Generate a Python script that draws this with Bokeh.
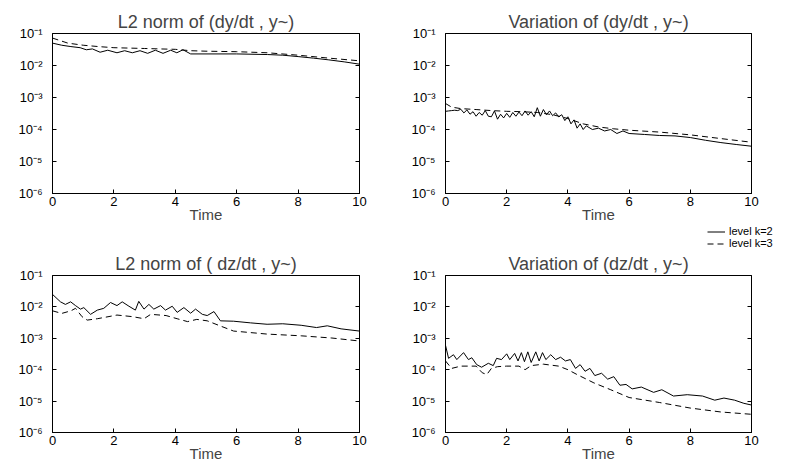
from bokeh.plotting import figure
from bokeh.layouts import column, row
from bokeh.models import (FixedTicker, CustomJSTickFormatter, LogAxis, Legend,
                          LegendItem, Range1d)
from bokeh.embed import file_html
from bokeh.resources import INLINE

# ---------------- data ----------------
titles = ["L2 norm of (dy/dt , y~)", "Variation of (dy/dt , y~)",
          "L2 norm of ( dz/dt , y~)", "Variation of (dz/dt , y~)"]
series_labels = ["level k=2", "level k=3"]
x_ticks = [0, 2, 4, 6, 8, 10]
y_ticks = [1e-6, 1e-5, 1e-4, 1e-3, 1e-2, 1e-1]

# L2 norm of (dy/dt, y~)
tl_t_k2 = [0, 0.3, 0.6, 0.9, 1.1, 1.3, 1.55, 1.8, 2.1, 2.35, 2.6, 2.85, 3.1, 3.35,
           3.6, 3.85, 4.05, 4.25, 4.5, 5, 6, 7, 7.5, 8, 8.5, 9, 9.5, 10]
tl_v_k2 = [0.050, 0.043, 0.039, 0.036, 0.031, 0.033, 0.026, 0.030, 0.025, 0.029,
           0.025, 0.029, 0.024, 0.030, 0.024, 0.030, 0.025, 0.031, 0.023, 0.023,
           0.023, 0.022, 0.021, 0.019, 0.017, 0.015, 0.013, 0.011]
tl_t_k3 = [0, 0.5, 1, 1.5, 2, 3, 4, 4.5, 5, 6, 7, 8, 9, 10]
tl_v_k3 = [0.072, 0.050, 0.043, 0.039, 0.036, 0.034, 0.032, 0.029, 0.028, 0.027,
           0.025, 0.021, 0.017, 0.014]

# Variation of (dy/dt, y~)
tr_t_k2 = [0.0, 0.1, 0.2, 0.3, 0.4, 0.5, 0.6, 0.7, 0.8, 0.9, 1.0, 1.1, 1.2, 1.3,
           1.4, 1.5, 1.6, 1.7, 1.8, 1.9, 2.0, 2.1, 2.2, 2.3, 2.4, 2.5, 2.6, 2.7,
           2.8, 2.9, 3.0, 3.1, 3.2, 3.3, 3.4, 3.5, 3.6, 3.7, 3.8, 3.9, 4.0, 4.1,
           4.2, 4.3, 4.4, 4.5, 4.6, 4.8, 5.0, 5.2, 5.4, 5.6, 5.8, 6.0, 6.5, 7.0,
           7.5, 8.0, 8.5, 9.0, 9.5, 10.0]
tr_v_k2 = [3.7e-4, 3.8e-4, 3.9e-4, 4.0e-4, 3.9e-4, 4.3e-4, 3.3e-4, 4.1e-4, 3.0e-4,
           3.6e-4, 2.6e-4, 3.4e-4, 2.8e-4, 3.9e-4, 2.6e-4, 2.5e-4, 3.8e-4, 2.1e-4,
           3.0e-4, 2.3e-4, 3.2e-4, 2.4e-4, 3.4e-4, 2.6e-4, 3.5e-4, 2.7e-4, 3.8e-4,
           2.8e-4, 3.6e-4, 2.5e-4, 4.8e-4, 2.6e-4, 4.2e-4, 2.9e-4, 3.8e-4, 2.7e-4,
           3.3e-4, 2.5e-4, 2.9e-4, 1.9e-4, 2.5e-4, 1.5e-4, 2.0e-4, 1.1e-4, 1.5e-4,
           1.0e-4, 1.3e-4, 1.0e-4, 1.1e-4, 9.0e-5, 1.0e-4, 7.5e-5, 9.0e-5, 7.5e-5,
           7.0e-5, 6.5e-5, 6.3e-5, 5.6e-5, 4.6e-5, 3.9e-5, 3.4e-5, 3.0e-5]
tr_t_k3 = [0, 0.2, 0.5, 1, 1.5, 2, 2.5, 3, 3.5, 4, 4.5, 5, 5.5, 6, 7, 8, 9, 10]
tr_v_k3 = [6.5e-4, 5.0e-4, 4.5e-4, 4.2e-4, 3.9e-4, 3.7e-4, 3.6e-4, 3.4e-4, 2.9e-4,
           2.2e-4, 1.5e-4, 1.2e-4, 1.05e-4, 9.5e-5, 8.3e-5, 6.8e-5, 5.2e-5, 4.0e-5]

# L2 norm of (dz/dt, y~)
bl_t_k2 = [0, 0.26, 0.42, 0.59, 0.75, 0.91, 1.02, 1.24, 1.46, 1.67, 1.89, 2.1, 2.27,
           2.49, 2.7, 2.81, 2.98, 3.14, 3.3, 3.52, 3.68, 3.9, 4.06, 4.28, 4.5, 4.66,
           4.88, 5.04, 5.26, 5.47, 5.9, 6.45, 6.99, 7.5, 8.1, 8.6, 8.95, 9.4, 10]
bl_v_k2 = [0.025, 0.0145, 0.012, 0.0145, 0.011, 0.0085, 0.0095, 0.0058, 0.0079,
           0.009, 0.0138, 0.011, 0.0145, 0.0105, 0.0079, 0.015, 0.0085, 0.012,
           0.0085, 0.011, 0.0079, 0.0105, 0.0067, 0.0095, 0.0063, 0.0085, 0.0058,
           0.0053, 0.0071, 0.0036, 0.0035, 0.0031, 0.0028, 0.0029, 0.0026, 0.0022,
           0.0025, 0.0020, 0.0017]
bl_t_k3 = [0, 0.3, 0.6, 0.75, 0.96, 1.13, 1.46, 2.1, 2.6, 2.98, 3.2, 3.7, 4.06, 4.4,
           4.7, 5.04, 5.5, 5.9, 7.0, 8.1, 9.1, 10]
bl_v_k3 = [0.0075, 0.0062, 0.0075, 0.009, 0.0049, 0.0038, 0.0042, 0.0055, 0.0049,
           0.0042, 0.0058, 0.0053, 0.0042, 0.0034, 0.0040, 0.0036, 0.0024, 0.0017,
           0.00136, 0.0012, 0.00102, 0.00082]

# Variation of (dz/dt, y~)
br_t_k2 = [0, 0.1, 0.26, 0.37, 0.59, 0.75, 0.86, 1.02, 1.18, 1.4, 1.56, 1.67, 1.83,
           2.0, 2.1, 2.26, 2.37, 2.48, 2.58, 2.69, 2.8, 2.95, 3.06, 3.17, 3.28,
           3.44, 3.6, 3.76, 3.92, 4.08, 4.25, 4.4, 4.56, 4.72, 4.88, 5.1, 5.3, 5.5,
           5.7, 5.9, 6.1, 6.4, 6.8, 7.07, 7.45, 7.9, 8.4, 8.8, 9.1, 9.45, 9.75, 10]
br_v_k2 = [6.0e-4, 2.3e-4, 3.0e-4, 2.1e-4, 3.5e-4, 2.1e-4, 2.4e-4, 1.45e-4, 1.2e-4,
           1.6e-4, 1.35e-4, 2.3e-4, 2.1e-4, 3.2e-4, 2.1e-4, 3.3e-4, 1.9e-4, 3.5e-4,
           1.8e-4, 3.7e-4, 1.7e-4, 3.7e-4, 1.9e-4, 3.5e-4, 2.1e-4, 3.0e-4, 2.1e-4,
           2.5e-4, 1.9e-4, 2.1e-4, 1.1e-4, 1.45e-4, 8.9e-5, 1.1e-4, 6.5e-5, 7.7e-5,
           5.0e-5, 6.0e-5, 3.2e-5, 3.4e-5, 2.45e-5, 2.8e-5, 1.9e-5, 2.3e-5, 1.45e-5,
           1.6e-5, 1.45e-5, 1.07e-5, 1.25e-5, 1.07e-5, 8.5e-6, 7.5e-6]
br_t_k3 = [0, 0.2, 0.5, 1.0, 1.2, 1.35, 1.5, 1.7, 2.0, 2.4, 2.6, 2.8, 3.2, 3.7, 4.0,
           4.3, 4.85, 5.4, 6.0, 7.0, 8.0, 9.0, 10]
br_v_k3 = [1.9e-4, 1.1e-4, 1.3e-4, 1.3e-4, 8e-5, 7e-5, 1.1e-4, 1.25e-4, 1.3e-4,
           1.3e-4, 1.0e-4, 1.35e-4, 1.5e-4, 1.3e-4, 1.0e-4, 7e-5, 3.8e-5, 2.3e-5,
           1.3e-5, 9e-6, 6e-6, 4.5e-6, 3.8e-6]

# ---------------- styling ----------------
FONT = "Liberation Sans"
DASH = "6 4"

SUP_JS = """
const sup = {"-": "\u207b", "0": "\u2070", "1": "\u00b9", "2": "\u00b2", "3": "\u00b3",
             "4": "\u2074", "5": "\u2075", "6": "\u2076", "7": "\u2077", "8": "\u2078",
             "9": "\u2079"};
const e = Math.round(Math.log10(tick));
let s = "";
for (const c of String(e)) { s += sup[c]; }
return "10" + s;
"""


def style_axis(ax):
    ax.axis_line_color = "black"
    ax.axis_line_width = 1
    ax.major_tick_in = 4
    ax.major_tick_out = 0
    ax.minor_tick_line_color = None
    ax.major_tick_line_color = "black"
    ax.major_label_text_font = FONT
    ax.major_label_text_font_size = "13px"
    ax.major_label_text_color = "black"


def make_panel(title, t2, v2, t3, v3, width, height, bl, br, bt, bb, align=True):
    p = figure(width=width, height=height, y_axis_type="log",
               x_range=Range1d(0, 10), y_range=Range1d(1e-6, 1e-1),
               output_backend="svg", toolbar_location=None,
               min_border_left=bl, min_border_right=br,
               min_border_top=bt, min_border_bottom=bb, title=title,
               frame_align=align)
    p.title.text_font = FONT
    p.title.text_font_size = "18px"
    p.title.text_font_style = "normal"
    p.title.align = "center"
    p.title.standoff = 4
    p.grid.visible = False
    p.outline_line_color = "black"
    p.outline_line_alpha = 1
    p.background_fill_color = "white"
    p.border_fill_color = "white"

    p.xaxis.ticker = FixedTicker(ticks=x_ticks)
    p.yaxis.ticker = FixedTicker(ticks=y_ticks)
    p.yaxis.formatter = CustomJSTickFormatter(code=SUP_JS)
    p.yaxis.major_label_standoff = 10
    p.xaxis.major_label_standoff = 3
    p.xaxis.axis_label = "Time"
    p.xaxis.axis_label_text_font = FONT
    p.xaxis.axis_label_text_font_size = "15px"
    p.xaxis.axis_label_text_font_style = "normal"
    p.xaxis.axis_label_standoff = -3
    style_axis(p.xaxis[0])
    style_axis(p.yaxis[0])

    right = LogAxis(ticker=FixedTicker(ticks=y_ticks),
                    formatter=CustomJSTickFormatter(code='return "";'))
    style_axis(right)
    right.major_label_standoff = 0
    p.add_layout(right, "right")

    p.line(t2, v2, line_color="black", line_width=1)
    p.line(t3, v3, line_color="black", line_width=1, line_dash=DASH)
    return p


tl = make_panel(titles[0], tl_t_k2, tl_v_k2, tl_t_k3, tl_v_k3,
                399, 248, 52, 40, 33, 55)
tr = make_panel(titles[1], tr_t_k2, tr_v_k2, tr_t_k3, tr_v_k3,
                389, 225, 46, 37, 33, 32, align=False)
bl = make_panel(titles[2], bl_t_k2, bl_v_k2, bl_t_k3, bl_v_k3,
                399, 216, 52, 40, 27, 30)
br = make_panel(titles[3], br_t_k2, br_v_k2, br_t_k3, br_v_k3,
                389, 216, 46, 37, 27, 30)

# legend strip under the upper-right panel; its frame starts where the legend does.
# The legend lines reuse the upper-right series, kept out of this strip's view range.
leg = figure(width=389, height=23, output_backend="svg", toolbar_location=None,
             x_range=Range1d(0, 10), y_range=Range1d(1.0, 2.0),
             min_border_left=308, min_border_right=0, min_border_top=0,
             min_border_bottom=0, frame_align=False)
leg.axis.visible = False
leg.grid.visible = False
leg.outline_line_color = None
lr2 = leg.line(tr_t_k2, tr_v_k2, line_color="black", line_width=1)
lr3 = leg.line(tr_t_k3, tr_v_k3, line_color="black", line_width=1, line_dash=DASH)
legend = Legend(items=[LegendItem(label=series_labels[0], renderers=[lr2]),
                       LegendItem(label=series_labels[1], renderers=[lr3])],
                location="top_left")
legend.padding = 0
legend.margin = 0
legend.spacing = -5
legend.label_standoff = 4
legend.glyph_width = 18
legend.glyph_height = 7
legend.label_height = 7
legend.label_text_font = FONT
legend.label_text_font_size = "11px"
legend.label_text_color = "black"
legend.border_line_color = None
legend.background_fill_alpha = 0
leg.add_layout(legend)

layout = column(row(tl, column(tr, leg)), row(bl, br))

open("out.html", "w").write(file_html(layout, INLINE))
